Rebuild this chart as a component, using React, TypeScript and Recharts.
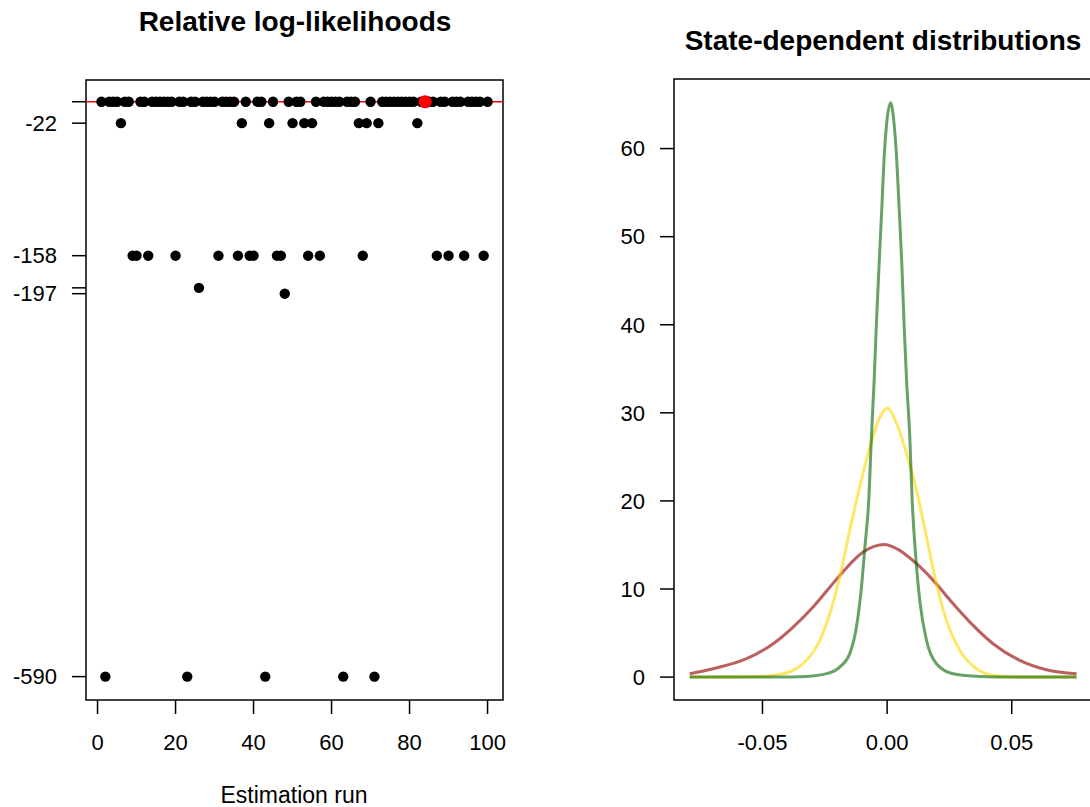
import {
  ScatterChart, Scatter, LineChart, Line, XAxis, YAxis,
  ReferenceLine, ReferenceArea,
} from 'recharts';

const FONT = '"Liberation Sans", Arial, Helvetica, sans-serif';

// relative log-likelihood of each estimation run (run 1..100)
const logLik = [
  0, -590, 0, 0, 0, -22, 0, 0, -158, -158,
  0, 0, -158, 0, 0, 0, 0, 0, 0, -158,
  0, 0, -590, 0, 0, -191, 0, 0, 0, 0,
  -158, 0, 0, 0, 0, -158, -22, 0, -158, -158,
  0, 0, -590, -22, 0, -158, -158, -197, 0, -22,
  0, 0, -22, -158, -22, 0, -158, 0, 0, 0,
  0, 0, -590, 0, 0, 0, -22, -158, -22, 0,
  -590, -22, 0, 0, 0, 0, 0, 0, 0, 0,
  0, -22, 0, 0, 0, 0, -158, 0, 0, -158,
  0, 0, 0, -158, 0, 0, 0, 0, -158, 0,
];
const bestRun = 84;
const runTicks = [0, 20, 40, 60, 80, 100];
const llTicks = [0, -22, -158, -191, -197, -590];
const llTickLabels = ['', '-22', '-158', '', '-197', '-590'];

// state-dependent densities
const redX = [-0.0792, -0.0698, -0.0564, -0.0457, -0.0377, -0.0297, -0.023, -0.0176, -0.0096, -0.001, 0.0038, 0.0118, 0.0185, 0.0265, 0.0345, 0.0425, 0.0532, 0.0639, 0.076];
const redY = [0.39, 0.95, 2.09, 3.79, 5.68, 7.95, 10.2, 12.0, 14.2, 15.05, 14.58, 12.87, 10.98, 8.33, 5.87, 3.79, 1.9, 0.84, 0.39];

const yellowX = [-0.0792, -0.055, -0.0457, -0.0377, -0.0323, -0.027, -0.023, -0.019, -0.015, -0.011, -0.0069, -0.0029, 0.0, 0.0038, 0.0078, 0.0118, 0.0158, 0.0198, 0.0238, 0.0292, 0.0359, 0.0425, 0.052, 0.076];
const yellowY = [0, 0.03, 0.19, 0.76, 1.9, 4.17, 7.2, 11.35, 16.66, 21.57, 26.1, 29.5, 30.55, 28.8, 25.4, 21.2, 15.9, 10.6, 6.44, 3.03, 0.95, 0.19, 0.02, 0];

const greenX = [-0.0792, -0.045, -0.0323, -0.0243, -0.019, -0.015, -0.0123, -0.0103, -0.0089, -0.0073, -0.0063, -0.0052, -0.0043, -0.0032, -0.0021, -0.0012, -0.0002, 0.0014, 0.0028, 0.0038, 0.0048, 0.0059, 0.0068, 0.0078, 0.0091, 0.01, 0.0115, 0.0131, 0.0158, 0.0198, 0.0265, 0.0372, 0.05, 0.076];
const greenY = [0, 0.01, 0.08, 0.39, 1.14, 2.66, 5.68, 10.2, 14.8, 20.4, 27.25, 33.7, 40.1, 46.9, 53.4, 59.0, 62.8, 65.2, 62.8, 59.0, 53.4, 46.9, 40.1, 33.7, 27.25, 20.4, 13.6, 8.7, 4.17, 1.52, 0.39, 0.08, 0.01, 0];

const densTicksX = [-0.05, 0, 0.05];
const densTicksY = [0, 10, 20, 30, 40, 50, 60];

const toPoints = (xs: number[], ys: number[]) => xs.map((x, i) => ({ x, y: ys[i] }));

const tickStyle = { fontSize: 22, fill: '#000' };
const tickLineStyle = { stroke: '#000', strokeWidth: 1.5 };

const BlackDot = (p: any) => <circle cx={p.cx} cy={p.cy} r={5.2} fill="#000" />;
const RedDot = (p: any) => <circle cx={p.cx} cy={p.cy} r={6.6} fill="#ff0000" />;

export default function App() {
  const llData = logLik.map((ll, i) => ({ run: i + 1, ll }));
  const bestData = llData.filter(d => d.run === bestRun);

  return (
    <div style={{ position: 'absolute', left: 0, top: 0, width: 1090, height: 807, overflow: 'hidden', background: '#fff', fontFamily: FONT }}>
      <div style={{ position: 'absolute', left: 0, top: 7, width: 590, textAlign: 'center', fontSize: 28, fontWeight: 'bold', lineHeight: '30px' }}>
        Relative log-likelihoods
      </div>
      <div style={{ position: 'absolute', left: 583, top: 26, width: 600, textAlign: 'center', fontSize: 28, fontWeight: 'bold', lineHeight: '30px' }}>
        State-dependent distributions
      </div>
      <div style={{ position: 'absolute', left: 0, top: 784, width: 588, textAlign: 'center', fontSize: 23, lineHeight: '22px' }}>
        Estimation run
      </div>

      <div style={{ position: 'absolute', left: 0, top: 0 }}>
        <ScatterChart width={540} height={807} margin={{ top: 80, right: 37, bottom: 0, left: 0 }}>
          <XAxis type="number" dataKey="run" domain={[-2.96, 103.96]} ticks={runTicks} interval={0}
            axisLine={false} tickLine={tickLineStyle} tickSize={14} tickMargin={20} height={107}
            tick={tickStyle} allowDataOverflow />
          <YAxis type="number" dataKey="ll" domain={[-614, 22.3]} ticks={llTicks} interval={0}
            tickFormatter={(v: number) => llTickLabels[llTicks.indexOf(v)] ?? ''}
            axisLine={false} tickLine={tickLineStyle} tickSize={14} tickMargin={15} width={86}
            tick={tickStyle} allowDataOverflow />
          <ReferenceArea x1={-2.96} x2={103.96} y1={-614} y2={22.3} fill="none" stroke="#000" strokeWidth={1.5} ifOverflow="visible" />
          <Scatter data={llData} shape={BlackDot} isAnimationActive={false} />
          <ReferenceLine y={0} stroke="#ff0000" strokeWidth={1.5} />
          <Scatter data={bestData} shape={RedDot} isAnimationActive={false} />
        </ScatterChart>
      </div>

      <div style={{ position: 'absolute', left: 560, top: 0 }}>
        <LineChart width={540} height={807} margin={{ top: 79, right: 8, bottom: 0, left: 0 }}>
          <XAxis type="number" dataKey="x" domain={[-0.0855, 0.0822]} ticks={densTicksX} interval={0}
            tickFormatter={(v: number) => v.toFixed(2)}
            axisLine={false} tickLine={tickLineStyle} tickSize={14} tickMargin={20} height={107}
            tick={tickStyle} allowDataOverflow />
          <YAxis type="number" dataKey="y" domain={[-2.6, 67.9]} ticks={densTicksY} interval={0}
            axisLine={false} tickLine={tickLineStyle} tickSize={14} tickMargin={15} width={114}
            tick={tickStyle} allowDataOverflow />
          <ReferenceArea x1={-0.0855} x2={0.0822} y1={-2.6} y2={67.9} fill="none" stroke="#000" strokeWidth={1.5} ifOverflow="visible" />
          <Line data={toPoints(redX, redY)} dataKey="y" type="monotone" stroke="#a52a2a" strokeOpacity={0.75}
            strokeWidth={3} dot={false} activeDot={false} isAnimationActive={false} />
          <Line data={toPoints(yellowX, yellowY)} dataKey="y" type="monotone" stroke="#ffd700" strokeOpacity={0.6}
            strokeWidth={3} dot={false} activeDot={false} isAnimationActive={false} />
          <Line data={toPoints(greenX, greenY)} dataKey="y" type="monotone" stroke="#006400" strokeOpacity={0.6}
            strokeWidth={3} dot={false} activeDot={false} isAnimationActive={false} />
        </LineChart>
      </div>
    </div>
  );
}
